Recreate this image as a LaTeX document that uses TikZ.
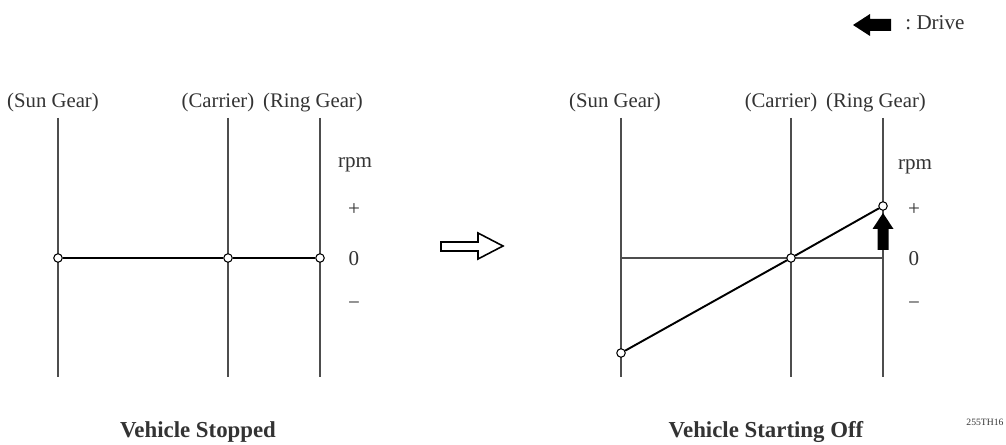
\documentclass[tikz,border=0pt]{standalone}
\usepackage{fontspec}
\setmainfont{Liberation Serif}
\usepackage{xcolor}
\definecolor{axisgray}{HTML}{4D4D4D}
\definecolor{inkgray}{HTML}{333333}

\begin{document}
\begin{tikzpicture}[x=0.02cm,y=-0.02cm,
  axis/.style={draw=axisgray,line width=1.1pt},
  lever/.style={draw=black,line width=1.4pt},
  zero/.style={draw=axisgray,line width=0.9pt},
  pin/.style={circle,draw=black,fill=white,line width=0.6pt,inner sep=0pt,minimum size=0.17cm},
  gearlabel/.style={text=inkgray,font=\fontsize{11.8}{13}\selectfont,inner sep=0pt},
  scalelabel/.style={text=inkgray,font=\fontsize{12}{14}\selectfont,inner sep=0pt},
  caption/.style={text=inkgray,font=\fontsize{13}{15}\bfseries\selectfont,inner sep=0pt}
]
  \useasboundingbox[fill=white] (0,0) rectangle (1006,445);

  % legend
  \fill[black] (853,25) -- (870,14) -- (870,19) -- (891,19) -- (891,31) -- (870,31) -- (870,36) -- cycle;
  \node[scalelabel,anchor=west] (drive) at (905,23) {:\ Drive};

  % left diagram: vehicle stopped
  \coordinate (lsuntop) at (58,118);  \coordinate (lsunbot) at (58,377);
  \coordinate (lcartop) at (228,118); \coordinate (lcarbot) at (228,377);
  \coordinate (lringtop) at (320,118); \coordinate (lringbot) at (320,377);
  \draw[axis] (lsuntop) -- (lsunbot);
  \draw[axis] (lcartop) -- (lcarbot);
  \draw[axis] (lringtop) -- (lringbot);
  \node[pin] (lsun) at (58,258) {};
  \node[pin] (lcar) at (228,258) {};
  \node[pin] (lring) at (320,258) {};
  \draw[lever] (lsun) -- (lcar) -- (lring);

  \node[gearlabel] (lsunlbl) at (53,103) {(Sun Gear)};
  \node[gearlabel] (lcarlbl) at (218,103) {(Carrier)};
  \node[gearlabel] (lringlbl) at (313,103) {(Ring Gear)};
  \node[scalelabel] (lrpm) at (355,165) {rpm};
  \node[scalelabel] (lplus) at (354,210) {+};
  \node[scalelabel] (lnil) at (354,259) {0};
  \node[scalelabel] (lminus) at (354,306) {−};
  \node[caption] (stopped) at (198,432) {Vehicle Stopped};

  % transition arrow
  \draw[black,line width=0.9pt,line join=miter] (441,242) -- (478,242) -- (478,233) -- (503,246) -- (478,259) -- (478,251) -- (441,251) -- cycle;

  % right diagram: vehicle starting off
  \coordinate (rsuntop) at (621,118);  \coordinate (rsunbot) at (621,377);
  \coordinate (rcartop) at (791,118);  \coordinate (rcarbot) at (791,377);
  \coordinate (rringtop) at (883,118); \coordinate (rringbot) at (883,377);
  \coordinate (rsunzero) at (621,258);
  \coordinate (rringzero) at (883,258);
  \draw[axis] (rsuntop) -- (rsunbot);
  \draw[axis] (rcartop) -- (rcarbot);
  \draw[axis] (rringtop) -- (rringbot);
  \draw[zero] (rsunzero) -- (rringzero);
  \node[pin] (rsun) at (621,353) {};
  \node[pin] (rcar) at (791,258) {};
  \node[pin] (rring) at (883,206) {};
  \draw[lever,line width=1.1pt] (rsun) -- (rcar) -- (rring);
  \fill[black] (883,213) -- (893.5,229) -- (888.5,229) -- (888.5,250) -- (877.5,250) -- (877.5,229) -- (872.5,229) -- cycle;

  \node[gearlabel] (rsunlbl) at (615,103) {(Sun Gear)};
  \node[gearlabel] (rcarlbl) at (781,103) {(Carrier)};
  \node[gearlabel] (rringlbl) at (876,103) {(Ring Gear)};
  \node[scalelabel] (rrpm) at (915,167) {rpm};
  \node[scalelabel] (rplus) at (914,210) {+};
  \node[scalelabel] (rnil) at (914,259) {0};
  \node[scalelabel] (rminus) at (914,306) {−};
  \node[caption] (starting) at (766,432) {Vehicle Starting Off};
  \node[text=inkgray,font=\fontsize{5.5}{6}\selectfont,inner sep=0pt] (figcode) at (985,422) {255TH16};
\end{tikzpicture}
\end{document}
